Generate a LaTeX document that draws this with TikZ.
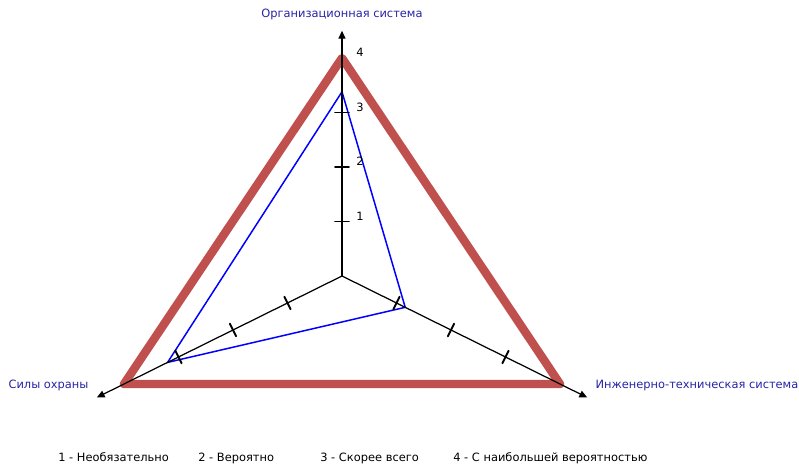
\documentclass[tikz,border=0pt]{standalone}
\usepackage{fontspec}
\setmainfont{DejaVu Sans}
\usetikzlibrary{calc}
\usetikzlibrary{arrows.meta}

\definecolor{ringred}{RGB}{192,80,77}
\definecolor{labelblue}{RGB}{40,35,165}

\begin{document}
\begin{tikzpicture}[
  line cap=round,
  line join=round,
  >={Triangle[length=4.5pt,width=4pt]},
  myaxis/.style={->,line width=0.7pt},
  mytick/.style={line width=1.1pt},
  axislabel/.style={text=labelblue},
  every node/.style={font=\fontsize{6.5}{8}\selectfont, inner sep=0pt}
]

\useasboundingbox (-6.84,-3.80) rectangle (9.14,5.52);

% one step along each axis
\coordinate (O) at (0,0);
\coordinate (top) at (0,1.09);
\coordinate (left) at (-1.09,-0.54);
\coordinate (right) at (1.09,-0.54);

\foreach \ax in {top,left,right} {
  \coordinate (\ax4) at ($4*(\ax)$);
  \coordinate (\ax end) at ($4.5*(\ax)$);
}

\draw [ringred, line width=4.8pt] (top4) -- (left4) -- (right4) -- cycle;

\coordinate (btop) at ($3.38*(top)$);
\coordinate (bright) at ($1.16*(right)$);
\coordinate (bleft) at ($3.2*(left)$);
\draw [blue, line width=0.85pt] (btop) -- (bright) -- (bleft) -- cycle;

\foreach \ax in {top,left,right} {
  \draw [myaxis] (O) -- (\ax end);
  \foreach \k in {1,2,3} {
    \coordinate (\ax\k) at ($\k*(\ax)$);
    \draw [mytick] ($(\ax\k)!0.14cm!90:(O)$) -- ($(\ax\k)!0.14cm!-90:(O)$);
  }
}

% values on the upper axis
\foreach \k in {1,2,3,4}
  \node [anchor=base west] (val\k) at ($(top\k)+(0.28,0.02)$) {\k};

\node [axislabel] (org) at ($(topend)+(0,0.32)$) {Организационная система};
\node [axislabel, anchor=east] (guard) at ($(leftend)+(-0.16,0.24)$) {Силы охраны};
\node [axislabel, anchor=west] (tech) at ($(rightend)+(0.16,0.24)$) {Инженерно-техническая система};

\foreach \x/\txt [count=\i] in {-5.68/{1 - Необязательно}, -2.88/{2 - Вероятно},
    -0.44/{3 - Скорее всего}, 2.22/{4 - С наибольшей вероятностью}}
  \node [anchor=base west] (leg\i) at (\x,-3.72) {\txt};

\end{tikzpicture}
\end{document}
